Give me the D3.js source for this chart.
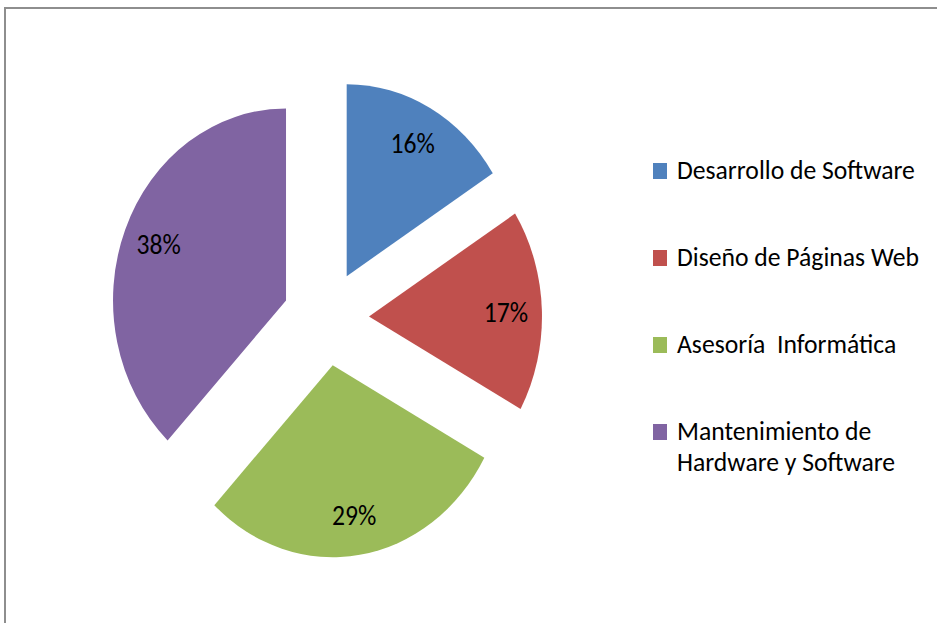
<!DOCTYPE html>
<html>
<head>
<meta charset="utf-8">
<script src="https://cdn.jsdelivr.net/npm/d3@7"></script>
<style>
  html, body { margin: 0; padding: 0; background: #fff; }
  svg { display: block; }
  text { font-family: Carlito, Lato, "Open Sans", sans-serif; fill: #000; }
</style>
</head>
<body>
<svg id="chart" width="937" height="623"></svg>
<script>
// Service categories and their share (%)
const categories = [
  "Desarrollo de Software",
  "Diseño de Páginas Web",
  "Asesoría  Informática",
  "Mantenimiento de\nHardware y Software"
];
const shares = [16, 17, 29, 38];
const colors = ["#4F81BD", "#C0504D", "#9BBB59", "#8064A2"];

const W = 937, H = 623;
const svg = d3.select("#chart");

// outer frame (open to the right and bottom)
svg.append("rect")
  .attr("x", 5).attr("y", 8)
  .attr("width", W + 10).attr("height", H + 10)
  .attr("fill", "#fff")
  .attr("stroke", "#8e8e8e")
  .attr("stroke-width", 2);

// the plot is slightly taller than wide
const sy = 1.11;
const cx = 326, cy = 318;
const radius = 173;
const explode = 43;
const labelR = 137;

// pick a font size so the legend text keeps its width
function fitSize(txt, target) {
  const t = svg.append("text").attr("font-size", 20).text(txt);
  const w = t.node().getComputedTextLength();
  t.remove();
  return 20 * target / w;
}
const fs = fitSize("Desarrollo de Software", 238);

const pie = d3.pie().sort(null).value(d => d)
  .startAngle(0).endAngle(2 * Math.PI);
const arcs = pie(shares);
const arc = d3.arc().innerRadius(0).outerRadius(radius);

const plot = svg.append("g");

plot.selectAll("path.slice")
  .data(arcs)
  .join("path")
  .attr("class", "slice")
  .attr("d", arc)
  .attr("fill", (d, i) => colors[i])
  .attr("transform", d => {
    const m = (d.startAngle + d.endAngle) / 2;
    const ox = explode * Math.sin(m);
    const oy = -explode * Math.cos(m);
    return `translate(${cx},${cy}) scale(1,${sy}) translate(${ox},${oy})`;
  });

plot.selectAll("text.pct")
  .data(arcs)
  .join("text")
  .attr("class", "pct")
  .attr("text-anchor", "middle")
  .attr("font-size", fs)
  .attr("dy", "0.35em")
  .attr("transform", d => {
    const m = (d.startAngle + d.endAngle) / 2;
    const r = explode + labelR;
    const x = cx + r * Math.sin(m);
    const y = cy - r * Math.cos(m) * sy;
    return `translate(${x},${y}) scale(1,${sy})`;
  })
  .text(d => d.data + "%");

// legend
const legendX = 653, legendTop = 171, legendStep = 87, lineStep = 31;
const legend = svg.append("g");
categories.forEach((name, i) => {
  const yc = legendTop + i * legendStep;
  legend.append("rect")
    .attr("x", legendX).attr("y", yc - 8)
    .attr("width", 14).attr("height", 16)
    .attr("fill", colors[i]);
  const lines = name.split("\n");
  const t = legend.append("text")
    .attr("font-size", fs)
    .attr("transform", `translate(${legendX + 24},${yc + 8})`);
  lines.forEach((ln, j) => {
    t.append("tspan")
      .attr("x", 0)
      .attr("y", j * lineStep)
      .attr("xml:space", "preserve")
      .style("white-space", "pre")
      .text(ln);
  });
});
</script>
</body>
</html>
